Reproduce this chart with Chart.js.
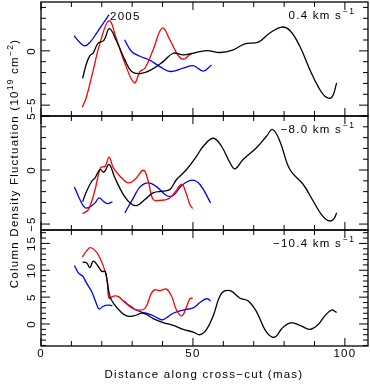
<!DOCTYPE html>
<html>
<head>
<meta charset="utf-8">
<script src="https://cdn.jsdelivr.net/npm/chart.js@4.4.1/dist/chart.umd.min.js"></script>
<style>
  html, body { margin: 0; padding: 0; background: #fff; }
</style>
</head>
<body>
<canvas id="c" width="370" height="390"></canvas>
<script>
// panel 1 : 0.4 km/s
const p1BlackX = [13.7, 15.0, 16.1, 17.2, 18.8, 20.7, 22.5, 24.9, 27.6, 29.8, 32.6, 35.9, 40.2, 43.5, 46.8, 50.1, 54.5, 58.9, 63.3, 67.1, 71.5, 75.3, 79.2, 81.9, 85.2, 88.5, 91.2, 93.4, 95.6, 97.3];
const p1BlackY = [-2.53, -1.14, -0.44, -0.19, 0.71, 0.96, 2.04, 0.88, -0.83, -1.9, -2.1, -1.8, -0.99, -0.22, -0.37, -0.22, 0.03, -0.15, 0.1, 0.65, 0.8, 1.64, 2.19, 1.87, 0.4, -1.76, -3.3, -4.17, -4.3, -2.95];
const p1RedX = [13.6, 15.0, 17.2, 19.4, 22.4, 24.9, 27.6, 30.7, 32.6, 34.2, 36.9, 39.9, 42.4, 45.2, 47.0, 48.8, 49.7];
const p1RedY = [-5.2, -4.2, -1.76, 0.71, 2.78, 1.02, -1.14, -2.93, -1.9, -1.6, 0.1, 2.1, 1.02, -0.44, -0.77, -0.37, -0.22];
const p1BlueX = [10.9, 12.8, 14.5, 16.3, 18.3, 20.5, 22.4, 25.0, 27.5, 29.8, 32.6, 35.9, 39.1, 42.4, 46.8, 50.1, 53.4, 56.1];
const p1BlueY = [1.39, 0.77, 0.46, 0.85, 1.64, 2.56, 3.33, null, 1.02, -0.06, -0.5, -0.88, -1.45, -1.9, -1.6, -1.36, -1.86, -1.3];

// panel 2 : -8.0 km/s
const p2BlackX = [13.7, 15.0, 16.7, 17.8, 19.4, 20.7, 22.4, 24.3, 27.1, 29.3, 31.5, 34.2, 36.9, 40.2, 42.4, 44.6, 47.9, 51.2, 53.4, 56.7, 59.4, 62.2, 63.8, 66.5, 70.9, 74.2, 76.2, 78.6, 81.9, 86.3, 89.6, 92.3, 94.5, 96.2, 97.3];
const p2BlackY = [-2.94, -1.96, -1.04, -0.72, 0.05, -0.2, 0.51, -0.72, -2.27, -3.04, -3.29, -2.73, -2.11, -1.96, -1.8, -0.88, 0.05, 1.28, 2.2, 2.94, 2.2, 0.67, 0.11, 0.97, 2.06, 3.13, 3.75, 2.67, 0.05, -1.34, -2.89, -4.12, -4.68, -4.58, -3.96];
const p2RedX = [13.6, 15.6, 17.8, 19.6, 21.1, 22.4, 23.8, 26.0, 28.7, 30.9, 33.7, 35.3, 36.9, 39.1, 41.9, 44.1, 46.3, 47.9, 49.0, 49.9];
const p2RedY = [-4.03, -3.66, -1.8, 0.2, 0.35, 1.19, 0.2, -0.57, -1.19, -0.88, -0.02, -1.04, -2.73, -2.8, -2.67, -2.06, -1.34, -2.27, -3.19, -3.56];
const p2BlueX = [11.0, 12.8, 14.5, 16.1, 17.8, 19.1, 20.5, 21.8, 23.5, 25.5, 27.6, 30.4, 32.6, 35.3, 38.1, 41.3, 43.5, 46.3, 49.6, 52.3, 55.8];
const p2BlueY = [-1.56, -2.73, -3.5, -3.41, -3.04, -2.57, -2.89, -3.1, -2.94, null, -3.96, -2.57, -1.56, -1.19, -1.56, -2.36, -2.36, -1.44, -0.94, -1.34, -3.04];

// panel 3 : -10.4 km/s
const p3BlackX = [13.7, 15.0, 16.1, 17.2, 18.8, 20.0, 21.1, 21.8, 22.7, 24.3, 26.0, 28.2, 30.4, 33.7, 36.9, 40.2, 43.5, 46.8, 50.1, 52.3, 54.5, 56.7, 59.4, 62.2, 65.5, 68.2, 70.9, 74.2, 77.0, 79.2, 82.1, 85.2, 88.5, 91.2, 93.4, 95.6, 97.3];
const p3BlackY = [11.5, 11.4, 10.5, 11.7, 10.75, 9.8, 9.8, 7.9, 5.1, 3.5, 2.4, 1.5, 1.5, 2.0, 1.0, 0.26, -0.25, -1.0, -1.5, -2.0, -1.0, 1.6, 5.7, 6.2, 4.8, 4.3, 2.3, -1.5, -2.45, -0.87, 0.2, -0.25, -1.0, -0.1, 1.5, 2.6, 2.15];
const p3RedX = [13.6, 15.0, 16.1, 17.8, 19.4, 21.1, 21.8, 22.4, 23.8, 25.5, 27.6, 29.8, 31.5, 34.2, 36.3, 37.5, 39.1, 41.3, 43.0, 44.6, 46.3, 47.9, 49.0, 49.9];
const p3RedY = [12.5, 13.6, 14.2, 13.7, 12.3, 9.8, 7.9, 4.8, 5.2, 5.1, 4.0, 3.2, 2.6, 2.9, 5.7, 6.4, 6.2, 6.5, 5.1, 2.6, 1.5, 3.2, 4.7, 4.8];
const p3BlueX = [11.0, 12.3, 13.7, 15.0, 16.7, 18.0, 19.1, 20.5, 22.1, 23.5, 25.5, 27.4, 29.3, 32.6, 35.9, 39.1, 40.2, 43.5, 46.8, 50.1, 52.3, 54.5, 55.8];
const p3BlueY = [10.9, 9.5, 8.9, 7.6, 6.0, 4.15, 2.8, 3.3, 3.5, 3.4, null, 4.3, 3.2, 2.3, 1.8, 0.9, 0.8, 2.0, 2.6, 3.0, 4.0, 4.7, 4.3];

// tick labels and panel texts
const xTickLabels = [0, 50, 100];
const yTickLabels = [[-5, 0], [-5, 0, 5], [0, 5, 10, 15]];
const velocities = ['0.4', '\u22128.0', '\u221210.4'];
const epochLabel = '2005';

function pts(xs, ys) {
  return xs.map((x, i) => ({ x: x, y: ys[i] }));
}

function line(xs, ys, color, axis) {
  return {
    data: pts(xs, ys),
    yAxisID: axis,
    borderColor: color,
    borderWidth: 1.3,
    pointRadius: 0,
    tension: 0.4,
    fill: false,
    spanGaps: false
  };
}

const FONT = '11.5px "Liberation Sans", Arial, sans-serif';
const SUP = '8.5px "Liberation Sans", Arial, sans-serif';

// draw text pieces, some of them raised, starting at x (local frame)
function drawParts(ctx, parts, x, y) {
  parts.forEach(p => {
    ctx.font = p.sup ? SUP : FONT;
    ctx.fillText(p.t, x, p.sup ? y - 5 : y);
    x += ctx.measureText(p.t).width;
  });
}
function partsWidth(ctx, parts) {
  let w = 0;
  parts.forEach(p => {
    ctx.font = p.sup ? SUP : FONT;
    w += ctx.measureText(p.t).width;
  });
  return w;
}

const framePlugin = {
  id: 'frame',
  afterDatasetsDraw(chart) {
    const ctx = chart.ctx;
    const xs = chart.scales.x;
    const area = chart.chartArea;
    const panels = [chart.scales.y1, chart.scales.y2, chart.scales.y3];
    ctx.save();
    ctx.strokeStyle = '#000';
    ctx.fillStyle = '#000';
    ctx.letterSpacing = '1.25px';
    ctx.textBaseline = 'alphabetic';

    panels.forEach((ys, i) => {
      const top = ys.top, bot = ys.bottom, l = area.left, r = area.right;
      ctx.lineWidth = 1.3;
      ctx.strokeRect(l, top, r - l, bot - top);

      ctx.lineWidth = 1;
      ctx.beginPath();
      for (let v = 0; v <= xs.max; v += 10) {
        const px = xs.getPixelForValue(v);
        const len = v % 50 === 0 ? 8 : 5;
        ctx.moveTo(px, top); ctx.lineTo(px, top + len);
        ctx.moveTo(px, bot); ctx.lineTo(px, bot - len);
      }
      for (let v = Math.ceil(ys.min); v <= ys.max; v++) {
        const py = ys.getPixelForValue(v);
        const len = v % 5 === 0 ? 9 : 5;
        ctx.moveTo(l, py); ctx.lineTo(l + len, py);
        ctx.moveTo(r, py); ctx.lineTo(r - len, py);
      }
      ctx.stroke();

      // rotated y tick labels
      ctx.font = FONT;
      ctx.textAlign = 'center';
      yTickLabels[i].forEach(v => {
        ctx.save();
        ctx.translate(35, ys.getPixelForValue(v));
        ctx.rotate(-Math.PI / 2);
        ctx.fillText(String(v).replace('-', '\u2212'), 0, 0);
        ctx.restore();
      });

      // velocity label, right aligned on the "s"
      ctx.textAlign = 'left';
      const main = [{ t: velocities[i] + ' km s' }];
      const w = partsWidth(ctx, main);
      drawParts(ctx, main, 342 - w, top + 17);
      drawParts(ctx, [{ t: '\u22121', sup: true }], 343, top + 17);
    });

    // x tick labels
    ctx.font = FONT;
    ctx.textAlign = 'center';
    xTickLabels.forEach(v => {
      ctx.fillText(String(v), xs.getPixelForValue(v), 357);
    });

    // epoch
    ctx.textAlign = 'left';
    ctx.fillText(epochLabel, 110, 19.5);

    // x title
    ctx.textAlign = 'center';
    ctx.fillText('Distance along cross\u2212cut (mas)', 204, 378);

    // y title
    ctx.textAlign = 'left';
    const yParts = [
      { t: 'Column Density Fluctuation (10' },
      { t: '19', sup: true },
      { t: ' cm' },
      { t: '\u22122', sup: true },
      { t: ')' }
    ];
    const yw = partsWidth(ctx, yParts);
    ctx.save();
    ctx.translate(17.5, 163.5);
    ctx.rotate(-Math.PI / 2);
    drawParts(ctx, yParts, -yw / 2, 0);
    ctx.restore();

    ctx.restore();
  }
};

function panelAxis(min, max, weight, stackWeight) {
  return {
    type: 'linear',
    position: 'left',
    stack: 'panels',
    stackWeight: stackWeight,
    weight: weight,
    min: min,
    max: max,
    ticks: { display: false },
    grid: { display: false, drawTicks: false },
    border: { display: false },
    afterFit: s => { s.width = 0; }
  };
}

new Chart(document.getElementById('c'), {
  type: 'line',
  data: {
    datasets: [
      line(p1BlackX, p1BlackY, '#000000', 'y1'),
      line(p1RedX, p1RedY, '#ff0000', 'y1'),
      line(p1BlueX, p1BlueY, '#0000ff', 'y1'),
      line(p2BlackX, p2BlackY, '#000000', 'y2'),
      line(p2RedX, p2RedY, '#ff0000', 'y2'),
      line(p2BlueX, p2BlueY, '#0000ff', 'y2'),
      line(p3BlackX, p3BlackY, '#000000', 'y3'),
      line(p3RedX, p3RedY, '#ff0000', 'y3'),
      line(p3BlueX, p3BlueY, '#0000ff', 'y3')
    ]
  },
  options: {
    responsive: false,
    animation: false,
    layout: { padding: { left: 41, right: 2, top: 2, bottom: 44 } },
    plugins: { legend: { display: false }, tooltip: { enabled: false } },
    scales: {
      x: {
        type: 'linear',
        min: 0,
        max: 107.6,
        ticks: { display: false },
        grid: { display: false, drawTicks: false },
        border: { display: false },
        afterFit: s => { s.height = 0; }
      },
      y1: panelAxis(-6.0, 4.5, 3, 114),
      y2: panelAxis(-5.55, 5.0, 2, 114),
      y3: panelAxis(-4.1, 17.5, 1, 116)
    }
  },
  plugins: [framePlugin]
});
</script>
</body>
</html>
